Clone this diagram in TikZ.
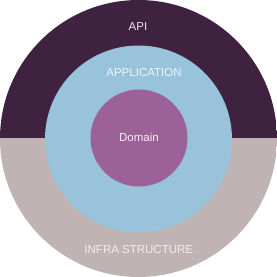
\documentclass[tikz,border=0pt]{standalone}
\usepackage{fontspec}
\setmainfont{Liberation Sans}
\definecolor{apicol}{HTML}{3F2140}
\definecolor{infracol}{HTML}{BFB3B3}
\definecolor{appcol}{HTML}{99C3DA}
\definecolor{domcol}{HTML}{9C6298}
\definecolor{apitxt}{HTML}{F2E2F0}
\definecolor{apptxt}{HTML}{EAF5FA}
\definecolor{domtxt}{HTML}{F8EEF8}
\definecolor{infratxt}{HTML}{F3EEEE}
\tikzset{
  lbl/.style={inner sep=0pt, font=\fontsize{11.5}{13}\selectfont, anchor=center},
  ring/.style={circle, inner sep=0pt, draw=none}
}
\begin{document}
\begin{tikzpicture}[x=1pt,y=1pt]
\useasboundingbox (0,0) rectangle (277,277);
\fill[white] (0,0) rectangle (277,277);
\begin{scope}
\clip (138.5,138.5) circle (138.5);
\fill[infracol] (0,0) rectangle (277,139.5);
\fill[apicol] (0,139.5) rectangle (277,277);
\end{scope}
\node[ring, fill=appcol, minimum size=187pt] (app) at (138.5,138) {};
\node[ring, fill=domcol, minimum size=97pt] (dom) at (139,139) {};
\node[lbl, text=apitxt] (apil) at (138,250) {API};
\node[lbl, text=apptxt] (appl) at (144,204) {APPLICATION};
\node[lbl, text=domtxt] (doml) at (139,140) {Domain};
\node[lbl, text=infratxt] (infl) at (138.8,27) {INFRA STRUCTURE};
\end{tikzpicture}
\end{document}
